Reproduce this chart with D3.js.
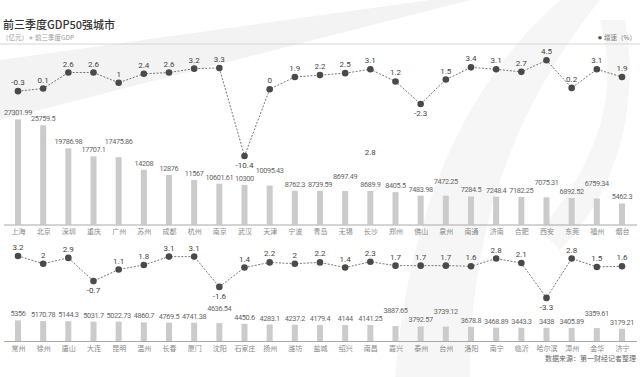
<!DOCTYPE html>
<html><head><meta charset="utf-8">
<script src="https://cdn.jsdelivr.net/npm/d3@7/dist/d3.min.js"></script>
<style>
html,body{margin:0;padding:0;background:#fff;}
svg{display:block;}
</style></head>
<body>
<script>
const citiesTop = ["上海","北京","深圳","重庆","广州","苏州","成都","杭州","南京","武汉","天津","宁波","青岛","无锡","长沙","郑州","佛山","泉州","南通","济南","合肥","西安","东莞","福州","烟台"];
const gdpTop = [27301.99,25759.5,19786.98,17707.1,17475.86,14208,12876,11567,10601.61,10300,10095.43,8762.3,8739.59,8697.49,8689.9,8405.5,7483.98,7472.25,7284.5,7248.4,7182.25,7075.31,6892.52,6759.34,5462.3];
const growthTop = [-0.3,0.1,2.6,2.6,1,2.4,2.6,3.2,3.3,-10.4,0,1.9,2.2,2.5,3.1,1.2,-2.3,1.5,3.4,3.1,2.7,4.5,0.2,3.1,1.9];

const citiesBottom = ["常州","徐州","唐山","大连","昆明","温州","长春","厦门","沈阳","石家庄","扬州","潍坊","盐城","绍兴","南昌","嘉兴","泰州","台州","洛阳","南宁","临沂","哈尔滨","漳州","金华","济宁"];
const gdpBottom = [5356,5170.78,5144.3,5031.7,5022.73,4860.7,4769.5,4741.38,4636.54,4450.6,4283.1,4237.2,4179.4,4144,4141.25,3887.65,3792.57,3739.12,3678.8,3468.89,3443.3,3438,3405.89,3359.61,3179.21];
const growthBottom = [3.2,2,2.9,-0.7,1.1,1.8,3.1,3.1,-1.6,1.4,2.2,2,2.2,1.4,2.3,1.7,1.7,1.7,1.6,2.8,2.1,-3.3,2.8,1.5,1.6];

const titleText = "前三季度GDP50强城市";
const unitText = "（亿元）";
const legendGdp = "前三季度GDP";
const legendGrowth = "增速（%）";
const sourceText = "数据来源：第一财经记者整理";
const strayText = "2.8";

const W = 640, H = 377;
const svg = d3.select("body").append("svg").attr("width", W).attr("height", H);

// faint watermark shapes
svg.append("path").attr("d","M0,120 L0,60 L430,0 L470,0 Z").attr("fill","#f3f3f3");
svg.append("path").attr("d","M395,377 C410,200 470,80 560,0 L600,0 C520,100 470,220 470,377 Z").attr("fill","#f6f6f6");
svg.append("path").attr("d","M540,230 C600,160 620,90 600,20 L625,20 C640,100 620,190 560,250 Z").attr("fill","#f6f6f6");

const cjk = "'Noto Sans CJK SC','Noto Sans',sans-serif";
const num = "Roboto,'Noto Sans',sans-serif";

// header
svg.append("text").attr("x",3).attr("y",29).text(titleText)
  .attr("font-family",cjk).attr("font-size",11).attr("font-weight",500).attr("fill","#333");
svg.append("text").attr("x",2).attr("y",40).attr("font-family",cjk).attr("font-size",6.5).attr("fill","#999").text(unitText);
svg.append("circle").attr("cx",31).attr("cy",37.8).attr("r",1.6).attr("fill","#bbb");
svg.append("text").attr("x",35).attr("y",40).text(legendGdp).attr("font-family",cjk).attr("font-size",6.5).attr("fill","#999");
svg.append("circle").attr("cx",600).attr("cy",37.8).attr("r",1.8).attr("fill","#555");
svg.append("text").attr("x",604).attr("y",40).text(legendGrowth).attr("font-family",cjk).attr("font-size",6.5).attr("fill","#777");
svg.append("line").attr("x1",0).attr("x2",W).attr("y1",44).attr("y2",44).attr("stroke","#d6d6d6").attr("stroke-width",1);

const gdpMax = 28000;

function panel(cities, gdp, growth, axisY, growthY0, growthPerUnit, stray) {
  const x = d3.scalePoint().domain(cities).range([18, 622]);
  const yBar = d3.scaleLinear().domain([0, gdpMax]).range([axisY, axisY - gdpMax * 0.00385]);
  const yG = d3.scaleLinear().domain([0, 1]).range([growthY0, growthY0 - growthPerUnit]);
  const g = svg.append("g");

  // bars
  g.selectAll("rect.bar").data(cities).join("rect")
    .attr("x", d => x(d) - 3).attr("width", 6)
    .attr("y", (d,i) => yBar(gdp[i])).attr("height", (d,i) => axisY - yBar(gdp[i]))
    .attr("fill", "#cbcbcb");

  // axis
  g.append("line").attr("x1",4).attr("x2",637).attr("y1",axisY+0.5).attr("y2",axisY+0.5)
    .attr("stroke","#a8a8a8").attr("stroke-width",1);
  const ax = g.append("g").attr("transform",`translate(0,${axisY})`)
    .call(d3.axisBottom(x).tickSize(0).tickPadding(5));
  ax.select(".domain").remove();
  ax.selectAll("text").attr("font-family",cjk).attr("font-size",7).attr("fill","#888");

  // growth line
  const line = d3.line().x((d,i) => x(cities[i])).y(d => yG(d));
  g.append("path").datum(growth).attr("d", line).attr("fill","none")
    .attr("stroke","#555").attr("stroke-width",0.8).attr("stroke-dasharray","2,1.5");
  g.selectAll("circle.pt").data(growth).join("circle")
    .attr("cx",(d,i) => x(cities[i])).attr("cy", d => yG(d)).attr("r",3.3).attr("fill","#4a4a4a");
  const gl = g.selectAll("text.gl").data(growth).join("text")
    .attr("x",(d,i) => x(cities[i])).attr("y", d => d < -0.5 ? yG(d) + 12 : yG(d) - 6)
    .attr("text-anchor","middle").attr("font-family",num).attr("font-size",8).attr("fill","#444")
    .text(d => d);
  const boxes = [];
  gl.each(function() { const b = this.getBBox(); boxes.push(b); });

  // bar value labels with greedy collision avoidance
  const labels = g.selectAll("text.bl").data(cities).join("text")
    .attr("x", d => x(d)).attr("y", (d,i) => yBar(gdp[i]) - 4)
    .attr("text-anchor","middle").attr("font-family",num).attr("font-size",7.3)
    .attr("letter-spacing",-0.35).attr("fill","#666")
    .text((d,i) => gdp[i]);
  const hitsGrowth = (cx, w, y) => boxes.some(b =>
    cx + w/2 > b.x && cx - w/2 < b.x + b.width && y > b.y && y - 6 < b.y + b.height);
  let prev = null;
  labels.each(function(d,i) {
    const w = this.getComputedTextLength();
    const cx = x(d);
    let y = yBar(gdp[i]) - 4;
    if (prev && (cx - w/2) < (prev.cx + prev.w/2 + 1.9) && Math.abs(y - prev.y) < 3.6) {
      const up = Math.min(y, prev.y - 8);
      if (!hitsGrowth(cx, w, up)) y = up;
    }
    d3.select(this).attr("y", y);
    prev = {cx, w, y};
  });

  if (stray) {
    g.append("text").attr("x", x(stray.city)).attr("y", stray.y)
      .attr("text-anchor","middle").attr("font-family",num).attr("font-size",8).attr("fill","#444")
      .text(stray.text);
  }
}

panel(citiesTop, gdpTop, growthTop, 224.5, 89.2, 6.42, {city:"长沙", y:155, text:strayText});
panel(citiesBottom, gdpBottom, growthBottom, 341, 276.6, 6.45, null);

svg.append("text").attr("x",636).attr("y",361).attr("text-anchor","end")
  .attr("font-family",cjk).attr("font-size",7).attr("fill","#666").text(sourceText);
</script>
</body></html>
